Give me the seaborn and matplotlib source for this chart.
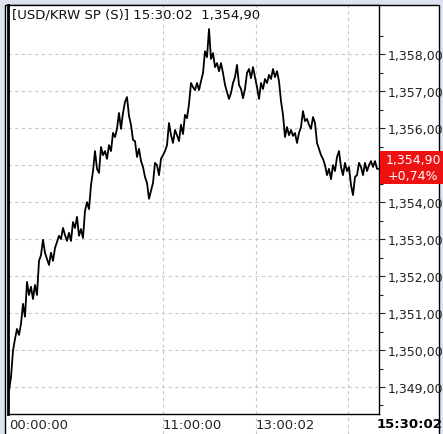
import numpy as np
import matplotlib
matplotlib.use("Agg")
import matplotlib.pyplot as plt
from matplotlib.patches import Rectangle
from matplotlib.ticker import FixedLocator, FuncFormatter
import seaborn as sns

# USD/KRW intraday prices (left to right)
prices = [
    1348.89, 1349.27, 1349.98, 1350.30, 1350.57, 1350.41, 1350.71, 1351.25, 1350.90, 1351.84,
    1351.49, 1351.71, 1351.38, 1351.76, 1351.49, 1352.41, 1352.57, 1352.98, 1352.63, 1352.46,
    1352.30, 1352.63, 1352.41, 1352.76, 1352.92, 1353.09, 1353.00, 1353.30, 1353.11, 1352.95,
    1353.17, 1352.95, 1353.46, 1353.30, 1353.60, 1353.09, 1353.27, 1353.03, 1353.76, 1354.00,
    1353.81, 1354.46, 1354.84, 1355.38, 1354.90, 1354.79, 1355.49, 1355.27, 1355.38, 1355.17,
    1355.54, 1355.38, 1355.87, 1355.76, 1355.98, 1356.41, 1355.98, 1356.41, 1356.71, 1356.84,
    1356.33, 1356.09, 1355.68, 1355.65, 1355.22, 1355.44, 1355.11, 1354.95, 1354.68, 1354.52,
    1354.09, 1354.30, 1354.52, 1355.06, 1355.00, 1354.73, 1355.17, 1355.27, 1355.38, 1355.54,
    1356.14, 1355.81, 1355.60, 1355.95, 1355.81, 1355.65, 1356.09, 1355.84, 1356.36, 1356.27,
    1356.65, 1357.22, 1357.11, 1357.03, 1357.22, 1357.03, 1357.27, 1357.49, 1358.08, 1357.92,
    1358.68, 1357.87, 1358.03, 1357.65, 1357.76, 1357.54, 1357.76, 1357.49, 1357.17, 1356.98,
    1356.79, 1356.95, 1357.22, 1357.38, 1357.71, 1357.17, 1357.06, 1356.81, 1357.06, 1357.49,
    1357.60, 1357.35, 1357.65, 1357.38, 1357.11, 1356.79, 1357.22, 1357.06, 1357.33, 1357.22,
    1357.44, 1357.33, 1357.60, 1357.38, 1357.54, 1357.27, 1356.73, 1356.36, 1355.76, 1356.03,
    1355.81, 1355.95, 1355.79, 1355.87, 1355.60, 1355.87, 1356.03, 1356.46, 1356.19, 1356.25,
    1356.09, 1355.98, 1356.30, 1356.14, 1355.60, 1355.44, 1355.27, 1355.17, 1355.00, 1354.73,
    1354.90, 1354.62, 1355.00, 1354.84, 1355.22, 1355.38, 1354.95, 1354.73, 1355.06, 1354.84,
    1354.95, 1354.46, 1354.19, 1354.68, 1354.73, 1355.06, 1354.95, 1354.73, 1355.06, 1354.84,
    1355.00, 1355.11, 1354.95, 1355.11, 1354.90, 1354.90,
]
ytick_values = [1349, 1350, 1351, 1352, 1353, 1354, 1356, 1357, 1358]
xtick_pos = [0, 77, 123.5]
xtick_labels = ["00:00:00", "11:00:00", "13:00:02"]
extra_vgrid = [169.5]
title_text = "[USD/KRW SP (S)] 15:30:02  1,354,90"
last_time = "15:30:02"
last_price = "1,354,90"
last_change = "+0,74%"

sns.set_style("white")
plt.rcParams['font.family'] = ['DejaVu Sans']

W, H = 443, 435
fig = plt.figure(figsize=(W / 100, H / 100), dpi=100, facecolor='#dde3f0')
# white panel with black frame (behind the axes)
fig.patches.append(Rectangle((5 / W, -0.01), (439 - 5) / W, (H - 6) / H + 0.01,
                             transform=fig.transFigure, fc='white', ec='black', lw=1, zorder=-5))

ax = fig.add_axes([8 / W, 20 / H, 371 / W, 409 / H])
ax.set_zorder(1)
ax.set_facecolor('white')

idx = np.arange(len(prices))
sns.lineplot(x=idx, y=prices, ax=ax, color='black', lw=1.3, estimator=None)

ax.set_xlim(-0.5, 185)
ax.set_ylim(1348.27, 1359.33)

# grid
for v in ytick_values + [1355]:
    ax.axhline(v, color='#c8c8c8', lw=0.8, ls=(0, (3, 3)), zorder=0)
for x in xtick_pos[1:] + extra_vgrid:
    ax.axvline(x, ymin=-20 / 409, ymax=1, color='#c8c8c8', lw=0.8, ls=(0, (3, 3)),
               zorder=0, clip_on=False)

# y axis on right
ax.yaxis.tick_right()
ax.yaxis.set_major_locator(FixedLocator(ytick_values))
ax.yaxis.set_minor_locator(FixedLocator([v + 0.5 for v in range(1348, 1359)]))
ax.yaxis.set_major_formatter(FuncFormatter(lambda v, p: f"{v:,.2f}".replace('.', ',')))
ax.tick_params(axis='y', which='major', direction='out', length=4, width=0.8,
               pad=2, labelsize=9, colors='#222222')
ax.tick_params(axis='y', which='minor', direction='out', length=3, width=0.8, colors='#222222')

# x labels
ax.set_xticks(xtick_pos)
ax.set_xticklabels(xtick_labels, ha='left')
ax.tick_params(axis='x', length=0, pad=3, labelsize=9.5)
ax.set_xlabel('')
ax.set_ylabel('')

for s in ['left', 'right', 'bottom', 'top']:
    ax.spines[s].set_visible(True)
    ax.spines[s].set_color('black')
ax.spines['left'].set_linewidth(2)
ax.spines['right'].set_linewidth(1)
ax.spines['bottom'].set_linewidth(1)
ax.spines['top'].set_linewidth(1)

fig.text(12 / W, 1 - 15 / H, title_text, fontsize=9.5, va='center', ha='left',
         color='#111111', zorder=6)

# last price box
fig.patches.append(Rectangle((380 / W, 1 - 185 / H), 63 / W, 33 / H,
                             transform=fig.transFigure, fc='#ee1111', ec='none', zorder=5))
fig.text(413 / W, 1 - 161 / H, last_price, color='white', fontsize=9,
         ha='center', va='center', zorder=6)
fig.text(413 / W, 1 - 177 / H, last_change, color='white', fontsize=9,
         ha='center', va='center', zorder=6)

fig.text(410 / W, 1 - 425 / H, last_time, fontsize=9.5, fontweight='bold',
         ha='center', va='center', color='black', zorder=6)

plt.savefig('out.png', dpi=100, facecolor=fig.get_facecolor())
